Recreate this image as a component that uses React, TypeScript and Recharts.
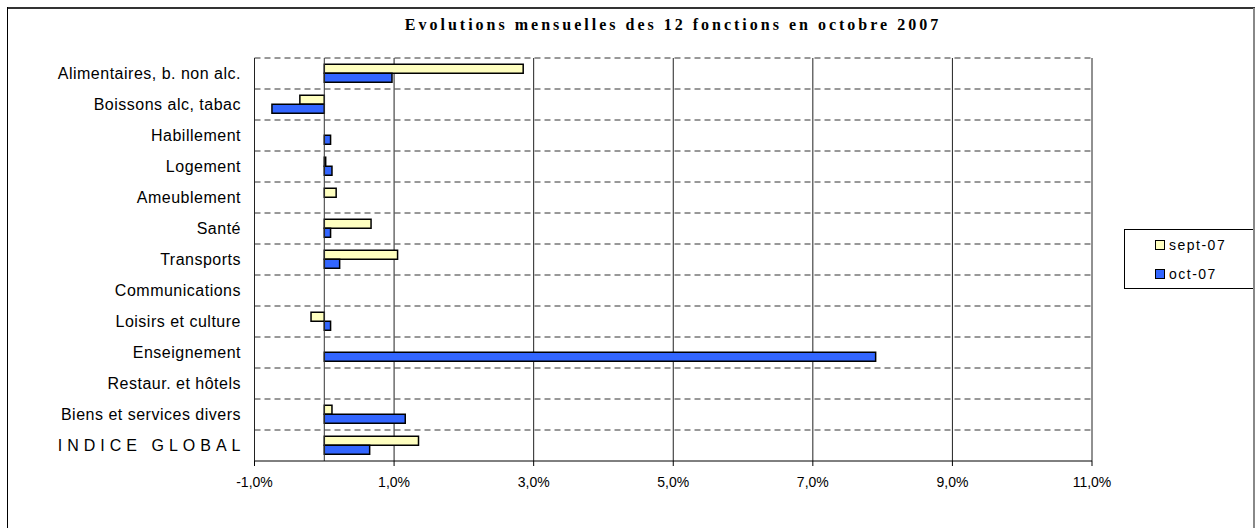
import React from 'react';
import { BarChart, Bar, XAxis, YAxis, CartesianGrid, Legend, ReferenceLine } from 'recharts';

const categories = [
  'Alimentaires, b. non alc.',
  'Boissons alc, tabac',
  'Habillement',
  'Logement',
  'Ameublement',
  'Santé',
  'Transports',
  'Communications',
  'Loisirs et culture',
  'Enseignement',
  'Restaur. et hôtels',
  'Biens et services divers',
  'INDICE GLOBAL',
];
const sept07 = [2.85, -0.35, 0, 0.02, 0.17, 0.67, 1.05, 0, -0.19, 0, 0, 0.11, 1.35];
const oct07 = [0.97, -0.75, 0.09, 0.11, 0, 0.09, 0.22, 0, 0.09, 7.9, 0, 1.16, 0.65];
const xTicks = [-1, 1, 3, 5, 7, 9, 11];
const seriesNames = ['sept-07', 'oct-07'];
const title = 'Evolutions mensuelles des 12 fonctions en octobre 2007';

const data = categories.map((c, i) => ({ name: c, sept: sept07[i], oct: oct07[i] }));

const FONT = '"Liberation Sans", Arial, sans-serif';

const YTick = (props: any) => {
  const { x, y, payload } = props;
  const isGlobal = payload.value === 'INDICE GLOBAL';
  const ls = isGlobal ? 5 : 0.5;
  return (
    <text
      x={x}
      y={y}
      dx={-8 + ls}
      dy={5}
      textAnchor="end"
      fontFamily={FONT}
      fontSize={16}
      fill="#000"
      style={{ letterSpacing: ls + 'px' }}
    >
      {payload.value}
    </text>
  );
};

const XTick = (props: any) => {
  const { x, y, payload } = props;
  const label = payload.value.toFixed(1).replace('.', ',') + '%';
  return (
    <text x={x} y={y} dy={19} textAnchor="middle" fontFamily={FONT} fontSize={14} fill="#000">
      {label}
    </text>
  );
};

const LegendBox = () => (
  <div
    style={{
      border: '1px solid #000',
      width: 131,
      height: 60,
      background: '#fff',
      fontFamily: FONT,
      fontSize: 14,
      boxSizing: 'border-box',
      paddingLeft: 30,
      paddingTop: 5,
    }}
  >
    {seriesNames.map((n, i) => (
      <div
        key={n}
        style={{
          height: 20,
          marginBottom: i === 0 ? 9 : 0,
          display: 'flex',
          alignItems: 'center',
          letterSpacing: '1.5px',
          whiteSpace: 'nowrap',
          lineHeight: '20px',
        }}
      >
        <span
          style={{
            display: 'inline-block',
            width: 8,
            height: 8,
            border: '1px solid #000',
            background: i === 0 ? '#FFFFC0' : '#3366FF',
            marginRight: 4,
            flex: 'none',
          }}
        />
        {n}
      </div>
    ))}
  </div>
);

export default function App() {
  return (
    <div style={{ position: 'absolute', left: 0, top: 0, width: 1255, height: 528, overflow: 'hidden', background: '#fff' }}>
      <div
        style={{
          position: 'absolute',
          left: 0,
          width: 1346,
          top: 16,
          textAlign: 'center',
          fontFamily: '"Liberation Serif", "Times New Roman", serif',
          fontWeight: 'bold',
          fontSize: 16,
          letterSpacing: '3px',
        }}
      >
        {title}
      </div>
      <div style={{ position: 'absolute', left: 0, top: 0 }}>
        <BarChart
          width={1255}
          height={528}
          data={data}
          layout="vertical"
          margin={{ top: 58, right: 163, bottom: 37, left: 14.5 }}
          barCategoryGap="20%"
          barGap={0}
        >
          <CartesianGrid
            stroke="#333"
            strokeWidth={1}
            vertical={false}
            strokeDasharray="6 4"
            horizontalCoordinatesGenerator={({ offset }: any) =>
              categories.map((_, i) => offset.top + (i * offset.height) / categories.length)
            }
          />
          <CartesianGrid stroke="#222" strokeWidth={1} horizontal={false} />
          <XAxis
            type="number"
            domain={[-1, 11]}
            ticks={xTicks}
            stroke="#000"
            tick={<XTick />}
            tickSize={5}
            interval={0}
          />
          <YAxis
            type="category"
            dataKey="name"
            width={240}
            axisLine={false}
            tickLine={false}
            tick={<YTick />}
            tickMargin={0}
            interval={0}
          />
          <ReferenceLine x={0} stroke="#333" strokeWidth={1} />
          <Bar dataKey="sept" name={seriesNames[0]} fill="#FFFFC0" stroke="#000" strokeWidth={1.5} isAnimationActive={false} />
          <Bar dataKey="oct" name={seriesNames[1]} fill="#3366FF" stroke="#000" strokeWidth={1.5} isAnimationActive={false} />
          <Legend
            layout="horizontal"
            align="center"
            verticalAlign="middle"
            content={<LegendBox />}
            wrapperStyle={{ position: 'absolute', left: 1124, top: 229, width: 131, height: 60 }}
          />
        </BarChart>
      </div>
      <div style={{ position: 'absolute', left: 7, top: 7, width: 1250, height: 2, background: '#333', pointerEvents: 'none' }} />
      <div style={{ position: 'absolute', left: 7, top: 7, width: 1, height: 600, background: '#000', pointerEvents: 'none' }} />
      <div style={{ position: 'absolute', left: 1253, top: 8, width: 2, height: 600, background: '#888', pointerEvents: 'none' }} />
    </div>
  );
}
